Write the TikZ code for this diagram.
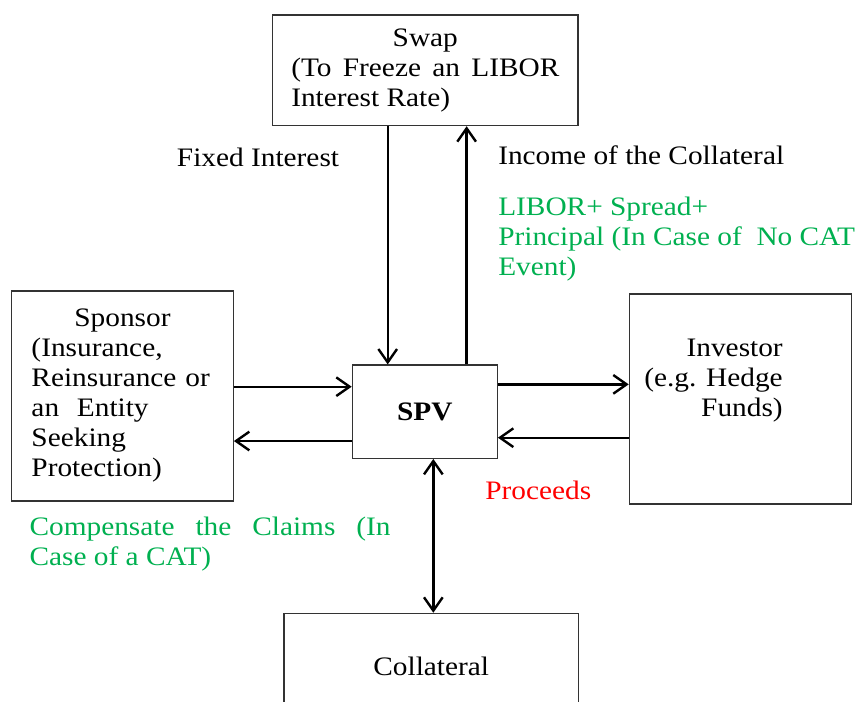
\documentclass[tikz,border=0pt]{standalone}
\usepackage{fontspec}
\setmainfont{Liberation Serif}[FakeStretch=1.1]
\usetikzlibrary{arrows.meta}
\definecolor{labelgreen}{RGB}{0,176,80}
\definecolor{labelred}{RGB}{255,0,0}
\setlength{\parindent}{0pt}

\begin{document}
\begin{tikzpicture}[
    x=0.75pt, y=-0.75pt,
    font=\fontsize{20}{22.5}\selectfont,
    component/.style={rectangle, draw=black!80, line width=0.9pt, inner sep=0pt},
    arrow/.style={-{Straight Barb[length=10pt,width=14pt]}, line width=1.8pt},
    twoway/.style={{Straight Barb[length=10pt,width=14pt]}-{Straight Barb[length=10pt,width=14pt]}, line width=1.8pt},
    note/.style={anchor=base west, inner sep=0pt}
]
\useasboundingbox (0,0) rectangle (859,702);

% Swap on top
\node[component, minimum width=229pt, minimum height=83pt, text width=201pt, align=justify] at (425.3,70.3) (swap)
  {{\centering Swap\par}(To Freeze an LIBOR\linebreak Interest Rate)};

% Sponsor, SPV and Investor in the middle row
\node[component, minimum width=166.2pt, minimum height=157.5pt, text width=136.5pt, align=left] at (122.5,396) (sponsor)
  {{\centering Sponsor\par}(Insurance,\\Reinsurance or\\an\ \ Entity\\Seeking\\Protection)};
\node[component, minimum width=108.75pt, minimum height=70pt, font=\fontsize{20}{22.5}\selectfont\bfseries] at (424.8,411.7) (spv) {SPV};
\node[component, minimum width=166.8pt, minimum height=157.5pt] at (740.5,399) (investor) {};
\node[anchor=north east, inner sep=0pt, align=right] at (783,338.3) (investortext) {Investor\\(e.g. Hedge\\Funds)};

% Collateral at the bottom
\node[component, minimum width=220.7pt, minimum height=79pt] at (431.2,666) (collateral) {Collateral};

% Labels
\node[note] at (176.7,166.7) (fixedint) {Fixed Interest};
\node[note] at (498,165) (income) {Income of the Collateral};
\node[note, anchor=north west, text=labelgreen, align=left] at (498,196.8) (libor)
  {LIBOR+ Spread+\\Principal (In Case of\ \ No CAT\\Event)};
\node[note, anchor=north west, text=labelgreen, text width=270.75pt, align=justify] at (29.3,516.8) (compensate)
  {Compensate the Claims (In\linebreak Case of a CAT)};
\node[note, text=labelred] at (485,499) (proceeds) {Proceeds};

% Arrow ends on the boxes
\coordinate (swapdown) at ([xshift=-28.2pt]swap.south);
\coordinate (swapup) at ([xshift=31pt]swap.south);
\coordinate (spvinL) at ([yshift=18.75pt]spv.west);
\coordinate (spvoutL) at ([yshift=-22pt]spv.west);
\coordinate (spvoutR) at ([yshift=20.5pt]spv.east);
\coordinate (spvinR) at ([yshift=-19.5pt]spv.east);
\coordinate (spvdown) at ([xshift=6.4pt]spv.south);

% Arrows
\draw[arrow] (swapdown) -- (swapdown |- spv.north);
\draw[arrow] (swapup |- spv.north) -- (swapup);
\draw[arrow] (sponsor.east |- spvinL) -- (spvinL);
\draw[arrow] (spvoutL) -- (sponsor.east |- spvoutL);
\draw[arrow] (spvoutR) -- (investor.west |- spvoutR);
\draw[arrow] (investor.west |- spvinR) -- (spvinR);
\draw[twoway] (spvdown) -- (spvdown |- collateral.north);

\end{tikzpicture}
\end{document}
